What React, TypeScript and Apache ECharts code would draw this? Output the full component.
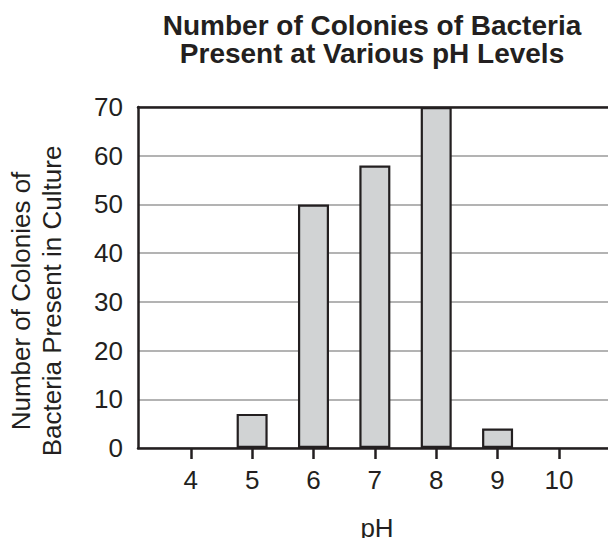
import React, { useEffect, useRef } from "react";
import * as echarts from "echarts";

const phLevels = [4, 5, 6, 7, 8, 9, 10];
const colonies = [0, 7, 50, 58, 70, 4, 0];
const yTicks = [0, 10, 20, 30, 40, 50, 60, 70];

const titleText = "Number of Colonies of Bacteria\nPresent at Various pH Levels";
const yName = "Number of Colonies of\nBacteria Present in Culture";
const xName = "pH";

const INK = "#231f20";
const FONT = "'Liberation Sans', Arial, Helvetica, sans-serif";

export default function App() {
  const ref = useRef<HTMLDivElement>(null);
  useEffect(() => {
    if (!ref.current) return;
    const chart = echarts.init(ref.current, undefined, { renderer: "svg" });
    chart.setOption({
      animation: false,
      backgroundColor: "#ffffff",
      textStyle: { fontFamily: FONT, color: INK },
      title: {
        text: titleText,
        left: 372,
        top: 11,
        padding: 0,
        textAlign: "center",
        textStyle: {
          fontFamily: FONT,
          fontSize: 28,
          fontWeight: "bold",
          lineHeight: 28,
          color: INK,
        },
      },
      graphic: [
        {
          type: "text",
          x: 36,
          y: 301,
          rotation: Math.PI / 2,
          style: {
            text: yName,
            fontFamily: FONT,
            fontSize: 26,
            lineHeight: 31,
            fill: INK,
            textAlign: "center",
            textVerticalAlign: "middle",
          },
        },
      ],
      grid: { left: 138, right: -10, top: 107, bottom: 89, containLabel: false },
      xAxis: [
        {
          type: "value",
          position: "bottom",
          min: 3.14,
          max: 10.93,
          name: xName,
          nameLocation: "middle",
          nameGap: 67,
          nameTextStyle: { fontFamily: FONT, fontSize: 26, color: INK },
          axisLine: { show: true, onZero: false, lineStyle: { color: INK, width: 2.5 } },
          axisTick: {
            show: true,
            customValues: phLevels,
            length: 11,
            lineStyle: { color: INK, width: 2.5 },
          },
          axisLabel: {
            show: true,
            customValues: phLevels,
            margin: 19,
            fontFamily: FONT,
            fontSize: 26,
            color: INK,
          },
          splitLine: { show: false },
        },
        {
          type: "value",
          position: "top",
          min: 3.14,
          max: 10.93,
          axisLine: { show: true, onZero: false, lineStyle: { color: INK, width: 2.5 } },
          axisTick: { show: false },
          axisLabel: { show: false },
          splitLine: { show: false },
        },
      ],
      yAxis: {
        type: "value",
        min: yTicks[0],
        max: yTicks[yTicks.length - 1],
        interval: 10,
        axisLine: { show: true, lineStyle: { color: INK, width: 2.5 } },
        axisTick: { show: false },
        axisLabel: {
          margin: 15,
          fontFamily: FONT,
          fontSize: 26,
          color: INK,
        },
        splitLine: { show: true, lineStyle: { color: "#9a9a9a", width: 1.5 } },
      },
      series: [
        {
          type: "bar",
          xAxisIndex: 0,
          data: phLevels.map((p, i) => ({
            value: [p, colonies[i]],
            itemStyle: colonies[i] === 0 ? { borderWidth: 0, opacity: 0 } : undefined,
          })),
          barWidth: 31,
          itemStyle: {
            color: "#d1d3d4",
            borderColor: INK,
            borderWidth: 2.2,
          },
          z: 1,
        },
      ],
    });
    return () => chart.dispose();
  }, []);
  return <div ref={ref} style={{ width: 616, height: 546, margin: -8 }} />;
}
